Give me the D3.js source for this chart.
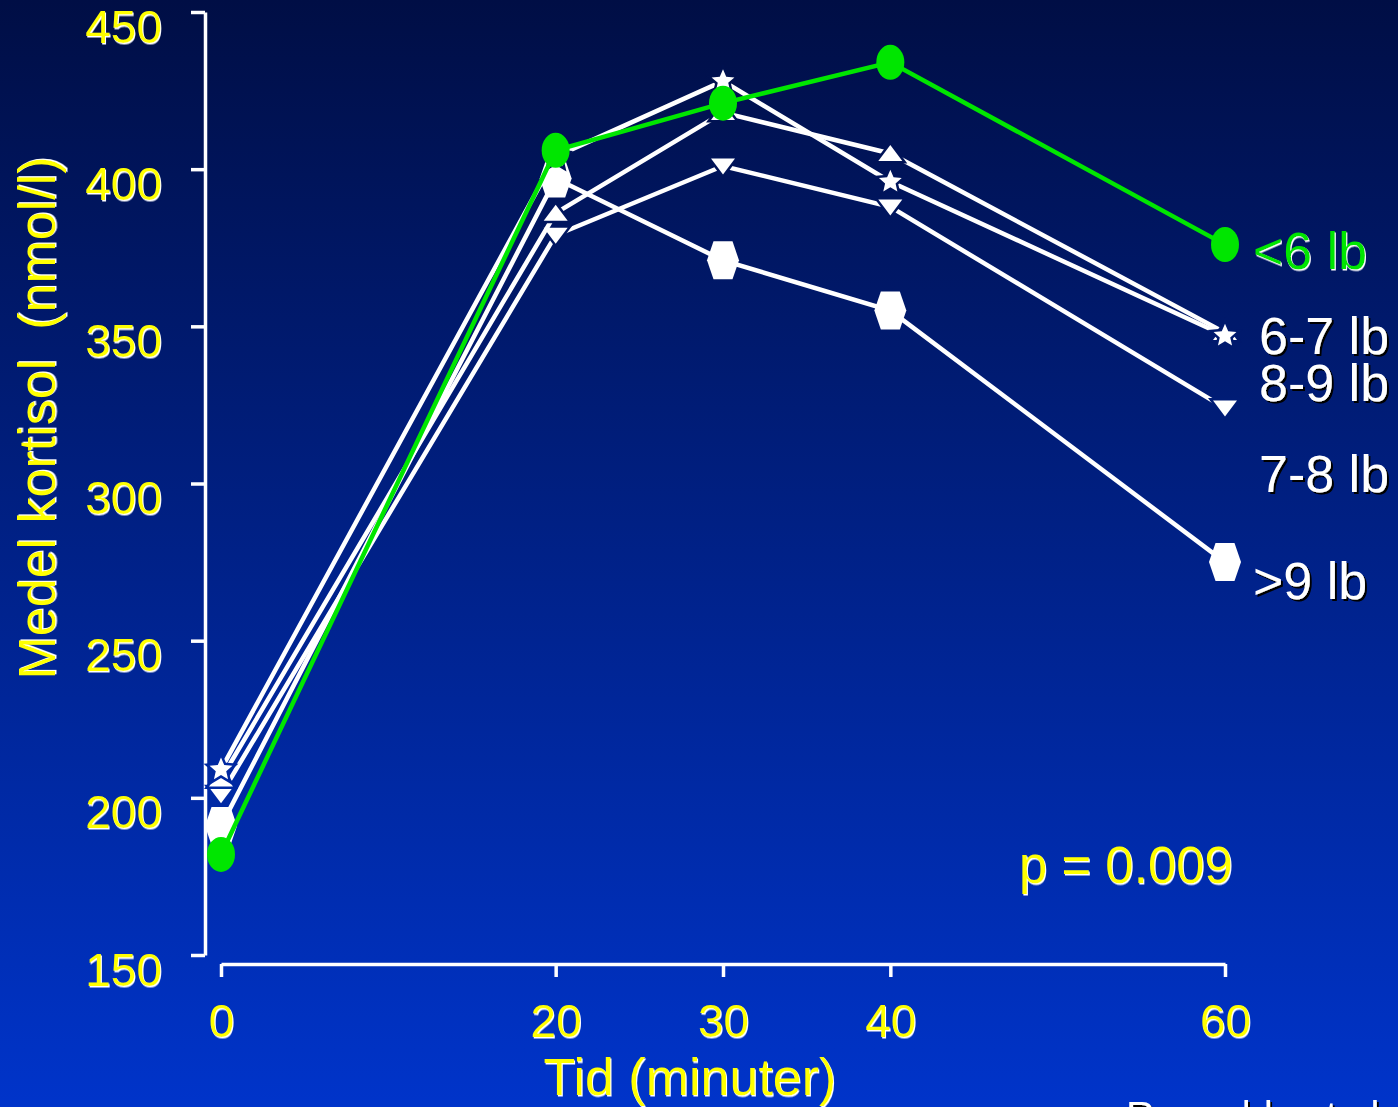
<!DOCTYPE html>
<html><head><meta charset="utf-8">
<script src="https://cdn.jsdelivr.net/npm/d3@7"></script>
<style>html,body{margin:0;padding:0;overflow:hidden;background:#001a80}</style>
</head><body><svg id="c" width="1398" height="1107"></svg>
<script>
// ---- data ----
const times = [0, 20, 30, 40, 60];
const seriesNames = ["<6 lb", "6-7 lb", "7-8 lb", "8-9 lb", ">9 lb"];
const under6 = [182, 406, 421, 434, 376];
const w6to7 = [209, 404, 428, 396, 347];
const w7to8 = [206, 386, 418, 405, 348];
const w8to9 = [201, 379, 401, 388, 324];
const over9 = [191, 397, 371, 355, 275];
const labelValues = [374, 347, 332, 303, 269];
const yTicks = [150, 200, 250, 300, 350, 400, 450];
const xTicks = [0, 20, 30, 40, 60];
const yTitle = "Medel kortisol  (nmol/l)";
const xTitle = "Tid (minuter)";
const pText = "p = 0.009";
const sourceText = "Reynolds et al";

// ---- setup ----
const W = 1398, H = 1107;
const svg = d3.select("#c");
const defs = svg.append("defs");
const topC = "#000e45", botC = "#0034ca";
const grad = defs.append("linearGradient").attr("id", "bg").attr("x1", 0).attr("y1", 0).attr("x2", 0).attr("y2", 1);
grad.append("stop").attr("offset", 0).attr("stop-color", topC);
grad.append("stop").attr("offset", 1).attr("stop-color", botC);
const bgAt = y => d3.interpolateRgb(topC, botC)(Math.max(0, Math.min(1, y / H)));
function shadow(id, color, dx, dy) {
  const f = defs.append("filter").attr("id", id).attr("x", "-10%").attr("y", "-10%").attr("width", "120%").attr("height", "130%");
  f.append("feDropShadow").attr("dx", dx).attr("dy", dy).attr("stdDeviation", 0).attr("flood-color", color).attr("flood-opacity", 1);
}
shadow("shW", "#ffffff", 1, 1.5);
shadow("shK", "#000000", 2, 2);

svg.append("rect").attr("width", W).attr("height", H).attr("fill", "url(#bg)");

const x = d3.scaleLinear().domain([0, 60]).range([221, 1225]);
const y = d3.scaleLinear().domain([150, 450]).range([955, 12]);
const FONT = "'Liberation Sans', Arial, sans-serif";
const YEL = "#ffff00", GRN = "#00e600";

// ---- axes ----
const yAxis = svg.append("g").attr("transform", "translate(205,0)")
  .call(d3.axisLeft(y).tickValues(yTicks).tickSize(14).tickSizeOuter(0).tickPadding(29).tickFormat(d3.format("d")));
yAxis.select(".domain").attr("stroke", "#fff").attr("stroke-width", 3.5);
yAxis.selectAll(".tick line").attr("stroke", "#fff").attr("stroke-width", 3.5);
yAxis.selectAll(".tick text").attr("fill", YEL).attr("font-family", FONT).attr("font-size", 46)
  .attr("dy", 0).attr("y", 30).attr("filter", "url(#shW)");

const xAxis = svg.append("g").attr("transform", "translate(0,964)")
  .call(d3.axisBottom(x).tickValues(xTicks).tickSize(13).tickSizeOuter(0).tickPadding(10).tickFormat(d3.format("d")));
xAxis.select(".domain").attr("stroke", "#fff").attr("stroke-width", 3.5);
xAxis.selectAll(".tick line").attr("stroke", "#fff").attr("stroke-width", 3.5);
xAxis.selectAll(".tick text").attr("fill", YEL).attr("font-family", FONT).attr("font-size", 46)
  .attr("dy", 0).attr("y", 73).attr("filter", "url(#shW)");

svg.append("text").attr("transform", "translate(55,418) rotate(-90)").attr("text-anchor", "middle")
  .attr("font-family", FONT).attr("font-size", 52).attr("fill", YEL).attr("filter", "url(#shW)")
  .style("white-space", "pre").text(yTitle);
svg.append("text").attr("x", 690).attr("y", 1095).attr("text-anchor", "middle")
  .attr("font-family", FONT).attr("font-size", 52).attr("fill", YEL).attr("filter", "url(#shW)").text(xTitle);
svg.append("text").attr("x", 1233).attr("y", 883).attr("text-anchor", "end")
  .attr("font-family", FONT).attr("font-size", 51).attr("fill", YEL).attr("filter", "url(#shW)").text(pText);
svg.append("text").attr("x", 1126).attr("y", 1130)
  .attr("font-family", FONT).attr("font-size", 40).attr("fill", "#fff").attr("filter", "url(#shK)").text(sourceText);

// ---- marker shapes ----
function shapePath(kind) {
  switch (kind) {
    case "circle": return "M-14,0A14,17.5 0 1,0 14,0A14,17.5 0 1,0 -14,0Z";
    case "hex": return "M-16,0L-9.5,-19L9.5,-19L16,0L9.5,19L-9.5,19Z";
    case "up": return "M-12,7.5L12,7.5L0,-8.5Z";
    case "down": return "M-12,-7.5L12,-7.5L0,8.5Z";
    case "star": {
      const p = d3.path();
      for (let i = 0; i < 10; i++) {
        const r = i % 2 ? 5.5 : 12, a = -Math.PI / 2 + i * Math.PI / 5;
        i ? p.lineTo(r * Math.cos(a), r * Math.sin(a)) : p.moveTo(r * Math.cos(a), r * Math.sin(a));
      }
      p.closePath(); return p.toString();
    }
  }
}

const series = [
  { name: seriesNames[4], values: over9, shape: "hex", color: "#fff", halo: false, label: labelValues[4], lc: "#fff" },
  { name: seriesNames[3], values: w8to9, shape: "down", color: "#fff", halo: true, label: labelValues[2], lc: "#fff" },
  { name: seriesNames[2], values: w7to8, shape: "up", color: "#fff", halo: true, label: labelValues[3], lc: "#fff" },
  { name: seriesNames[1], values: w6to7, shape: "star", color: "#fff", halo: true, label: labelValues[1], lc: "#fff" },
  { name: seriesNames[0], values: under6, shape: "circle", color: GRN, halo: false, label: labelValues[0], lc: GRN }
];

const line = d3.line().x(d => x(d.t)).y(d => y(d.v));
series.forEach(s => {
  const pts = times.map((t, i) => ({ t, v: s.values[i] }));
  const g = svg.append("g");
  g.append("path").attr("d", line(pts)).attr("fill", "none").attr("stroke", s.color).attr("stroke-width", 4.5);
  g.selectAll("path.m").data(pts).join("path").attr("class", "m")
    .attr("transform", d => `translate(${x(d.t)},${y(d.v)})`)
    .attr("d", shapePath(s.shape)).attr("fill", s.color)
    .attr("stroke", d => s.halo ? bgAt(y(d.v)) : "none").attr("stroke-width", s.halo ? 5 : 0)
    .attr("paint-order", "stroke");
});

// ---- end labels ----
const labelX = { "<6 lb": 28, ">9 lb": 28 };
series.forEach(s => {
  svg.append("text").attr("x", x(60) + (labelX[s.name] || 34)).attr("y", y(s.label)).attr("dy", "0.35em")
    .attr("font-family", FONT).attr("font-size", 52).attr("fill", s.lc)
    .attr("filter", s.lc === GRN ? "url(#shW)" : "url(#shK)").text(s.name);
});
</script></body></html>
